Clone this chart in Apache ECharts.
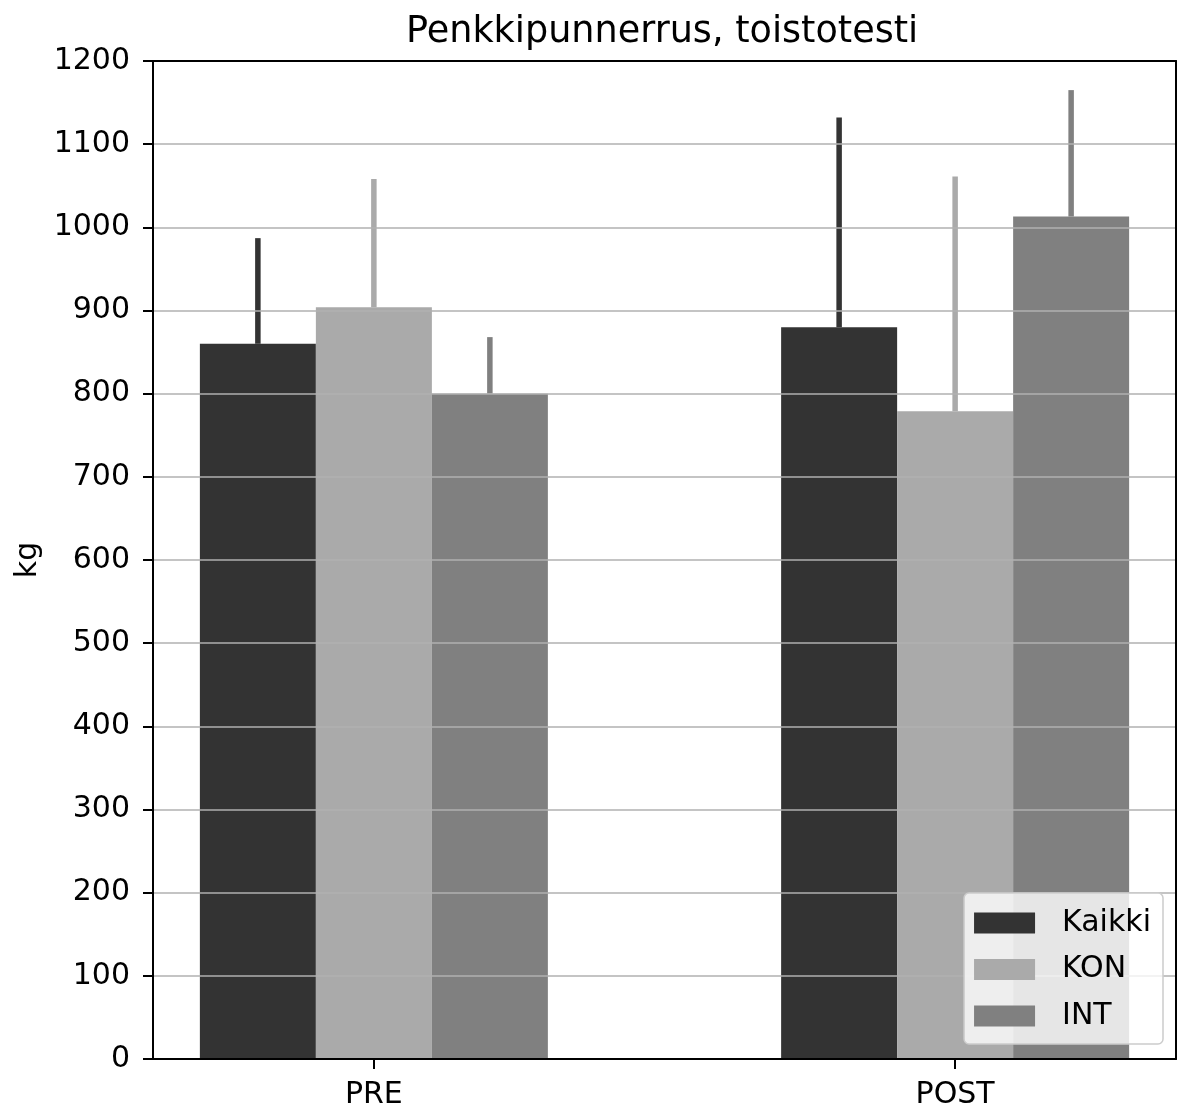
<!DOCTYPE html>
<html>
<head>
<meta charset="utf-8">
<script src="https://cdn.jsdelivr.net/npm/echarts@6/dist/echarts.min.js"></script>
<style>
  html, body { margin: 0; padding: 0; background: #fff; }
  #chart { width: 1178px; height: 1106px; }
</style>
</head>
<body>
<div id="chart"></div>
<script>
// ---- data ----
const categories = ['PRE', 'POST'];
const seriesNames = ['Kaikki', 'KON', 'INT'];
const kaikki = [860, 880];
const kaikkiErr = [127, 252];
const kon = [904, 779];
const konErr = [154, 282];
const intv = [800, 1013];
const intErr = [68, 152];
const yTicks = [0, 100, 200, 300, 400, 500, 600, 700, 800, 900, 1000, 1100, 1200];

// ---- styling ----
const FONT = 'DejaVu Sans';
const colors = ['#333333', '#aaaaaa', '#808080'];
const BAR_W = 116;
const values = [kaikki, kon, intv];
const errs = [kaikkiErr, konErr, intErr];

const chart = echarts.init(document.getElementById('chart'), null, { renderer: 'canvas' });

const barSeries = seriesNames.map((name, s) => ({
  name: name,
  type: 'bar',
  xAxisIndex: 0,
  yAxisIndex: 0,
  barWidth: BAR_W,
  barGap: '0%',
  itemStyle: { color: colors[s] },
  z: 2,
  data: categories.map((c, i) => [i, values[s][i]])
}));

const errSeries = seriesNames.map((name, s) => ({
  name: name + ' err',
  type: 'custom',
  xAxisIndex: 0,
  yAxisIndex: 0,
  z: 2,
  encode: { x: 0, y: 1 },
  data: categories.map((c, i) => [i, values[s][i], errs[s][i]]),
  renderItem: function (params, api) {
    const x = api.value(0), v = api.value(1), e = api.value(2);
    const p0 = api.coord([x, v]);
    const p1 = api.coord([x, v + e]);
    const off = (s - 1) * BAR_W;
    return {
      type: 'line',
      shape: { x1: p0[0] + off, y1: p0[1], x2: p0[0] + off, y2: p1[1] },
      style: { stroke: colors[s], lineWidth: 5.5, lineCap: 'butt' }
    };
  }
}));

const option = {
  animation: false,
  backgroundColor: '#ffffff',
  title: {
    text: 'Penkkipunnerrus, toistotesti',
    left: 406,
    top: 14,
    padding: 0,
    textStyle: { fontFamily: FONT, fontSize: 36.6, fontWeight: 'normal', color: '#000' }
  },
  legend: {
    data: seriesNames,
    orient: 'vertical',
    right: 15,
    bottom: 62,
    icon: 'rect',
    itemWidth: 61,
    itemHeight: 21,
    itemGap: 16.5,
    padding: [15, 12, 13, 10],
    backgroundColor: 'rgba(255,255,255,0.8)',
    borderColor: '#cccccc',
    borderWidth: 1.5,
    borderRadius: 5,
    z: 5,
    textStyle: { fontFamily: FONT, fontSize: 30, color: '#000', lineHeight: 21, padding: [0, 0, 0, 22] }
  },
  grid: { left: 153, right: 2, top: 61, bottom: 47, containLabel: false, outerBoundsMode: 'none' },
  xAxis: [
    {
      type: 'value',
      min: -0.38,
      max: 1.38,
      z: 3,
      axisLine: { show: true, onZero: false, lineStyle: { color: '#000', width: 2 } },
      axisTick: { show: true, length: 10, lineStyle: { color: '#000', width: 2 }, customValues: [0, 1] },
      axisLabel: {
        show: true,
        customValues: [0, 1],
        margin: 21,
        formatter: v => categories[Math.round(v)],
        fontFamily: FONT, fontSize: 30, color: '#000'
      },
      splitLine: { show: false }
    },
    {
      type: 'value',
      position: 'top',
      min: -0.38,
      max: 1.38,
      z: 3,
      axisLine: { show: true, onZero: false, lineStyle: { color: '#000', width: 2 } },
      axisTick: { show: false },
      axisLabel: { show: false },
      splitLine: { show: false }
    }
  ],
  yAxis: [
    {
      type: 'value',
      min: 0,
      max: 1200,
      interval: 100,
      z: 3,
      name: 'kg',
      nameLocation: 'middle',
      nameGap: 110,
      nameTextStyle: { fontFamily: FONT, fontSize: 30, color: '#000' },
      axisLine: { show: true, onZero: false, lineStyle: { color: '#000', width: 2 } },
      axisTick: { show: true, length: 10, lineStyle: { color: '#000', width: 2 } },
      axisLabel: {
        margin: 23,
        fontFamily: FONT, fontSize: 30, color: '#000',
        formatter: v => (yTicks.indexOf(v) >= 0 ? String(v) : '')
      },
      splitLine: { show: true, lineStyle: { color: '#b0b0b0', width: 1.6 } }
    },
    {
      type: 'value',
      position: 'right',
      min: 0,
      max: 1200,
      z: 3,
      axisLine: { show: true, onZero: false, lineStyle: { color: '#000', width: 2 } },
      axisTick: { show: false },
      axisLabel: { show: false },
      splitLine: { show: false }
    }
  ],
  series: barSeries.concat(errSeries)
};

chart.setOption(option);
</script>
</body>
</html>
